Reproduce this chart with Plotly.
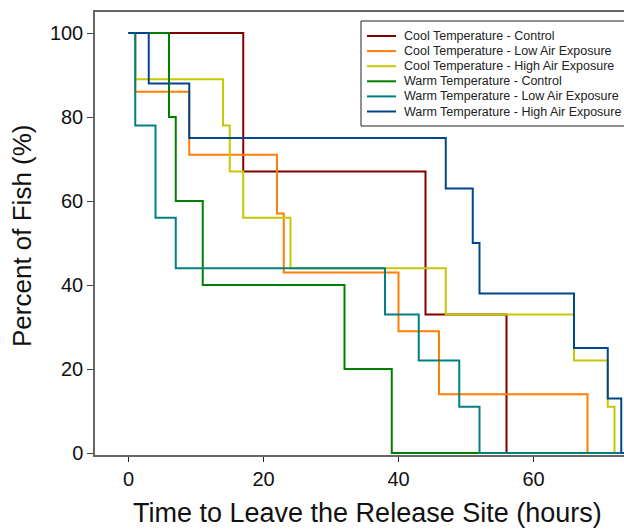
import plotly.graph_objects as go

# Kaplan-Meier style retention curves: percent of fish still at the release site
series_names = [
    "Cool Temperature - Control",
    "Cool Temperature - Low Air Exposure",
    "Cool Temperature - High Air Exposure",
    "Warm Temperature - Control",
    "Warm Temperature - Low Air Exposure",
    "Warm Temperature - High Air Exposure",
]
colors = ["#800000", "#ff7f00", "#c8c800", "#008000", "#008080", "#00468c"]

cool_control_t = [0, 17, 44, 56]
cool_control_p = [100, 67, 33, 0]

cool_low_t = [0, 1, 9, 22, 23, 40, 46, 68]
cool_low_p = [100, 86, 71, 57, 43, 29, 14, 0]

cool_high_t = [0, 1, 14, 15, 17, 24, 47, 66, 71, 72]
cool_high_p = [100, 89, 78, 67, 56, 44, 33, 22, 11, 0]

warm_control_t = [0, 6, 7, 11, 32, 39]
warm_control_p = [100, 80, 60, 40, 20, 0]

warm_low_t = [0, 1, 4, 7, 38, 43, 49, 52]
warm_low_p = [100, 78, 56, 44, 33, 22, 11, 0]

warm_high_t = [0, 3, 9, 47, 51, 52, 66, 71, 73]
warm_high_p = [100, 88, 75, 63, 50, 38, 25, 13, 0]

# curves carry their last value on to the end of the observation window
observation_end = 75

x_ticks = [0, 20, 40, 60]
y_ticks = [0, 20, 40, 60, 80, 100]

curves = [
    (cool_control_t, cool_control_p),
    (cool_low_t, cool_low_p),
    (cool_high_t, cool_high_p),
    (warm_control_t, warm_control_p),
    (warm_low_t, warm_low_p),
    (warm_high_t, warm_high_p),
]

W, H = 624, 529
M_L, M_R, M_T, M_B = 95, 0, 12, 74
FONT = "Liberation Sans, Arial, sans-serif"

fig = go.Figure()
for name, color, (t, p) in zip(series_names, colors, curves):
    fig.add_trace(go.Scatter(
        x=list(t) + [observation_end], y=list(p) + [p[-1]],
        name=name, mode="lines",
        line=dict(color=color, width=2, shape="hv"),
        showlegend=False,
    ))

# pixel -> paper helpers for the boxed key
plot_w = W - M_L - M_R
plot_h = H - M_T - M_B


def px_x(px):
    return (px - M_L) / plot_w


def px_y(py):
    return (H - M_B - py) / plot_h


shapes = [dict(type="rect", xref="paper", yref="paper",
               x0=px_x(361), x1=px_x(640), y0=px_y(126), y1=px_y(21),
               line=dict(color="#222222", width=1), fillcolor="white", layer="above")]
annotations = []
row0, row_gap = 36, 15.1
for i, (name, color) in enumerate(zip(series_names, colors)):
    yy = row0 + i * row_gap
    shapes.append(dict(type="line", xref="paper", yref="paper",
                       x0=px_x(367), x1=px_x(396), y0=px_y(yy), y1=px_y(yy),
                       line=dict(color=color, width=2), layer="above"))
    annotations.append(dict(xref="paper", yref="paper", x=px_x(402), y=px_y(yy),
                            text=name, showarrow=False, xanchor="left", yanchor="middle",
                            font=dict(family=FONT, size=12.5, color="#222222")))

annotations.append(dict(xref="paper", yref="paper", x=px_x(367), y=px_y(513),
                        text="Time to Leave the Release Site (hours)", showarrow=False,
                        xanchor="center", yanchor="middle",
                        font=dict(family=FONT, size=27, color="#111111")))
annotations.append(dict(xref="paper", yref="paper", x=px_x(22), y=px_y(236),
                        text="Percent of Fish (%)", showarrow=False, textangle=-90,
                        xanchor="center", yanchor="middle",
                        font=dict(family=FONT, size=26, color="#111111")))

x_lo = (M_L - 128.5) / 6.75
x_hi = (W - M_R - 128.5) / 6.75
y_lo = -(H - M_B - 453) / 4.2
y_hi = y_lo + plot_h / 4.2

fig.update_layout(
    width=W, height=H,
    margin=dict(l=M_L, r=M_R, t=M_T, b=M_B),
    paper_bgcolor="white", plot_bgcolor="white",
    font=dict(family=FONT, color="#111111"),
    shapes=shapes, annotations=annotations,
    xaxis=dict(range=[x_lo, x_hi], tickvals=x_ticks, ticks="outside", ticklen=5,
               tickcolor="#222222", tickwidth=1, showline=True, linecolor="#666666",
               linewidth=1.5, mirror=True, showgrid=False, zeroline=False,
               tickfont=dict(size=20, family=FONT, color="#111111")),
    yaxis=dict(range=[y_lo, y_hi], tickvals=y_ticks, ticks="outside", ticklen=6,
               tickcolor="#444444", tickwidth=1, showline=True, linecolor="#666666",
               linewidth=1.5, showgrid=False, zeroline=False,
               tickfont=dict(size=20, family=FONT, color="#111111")),
)

fig.write_html("out.html")
